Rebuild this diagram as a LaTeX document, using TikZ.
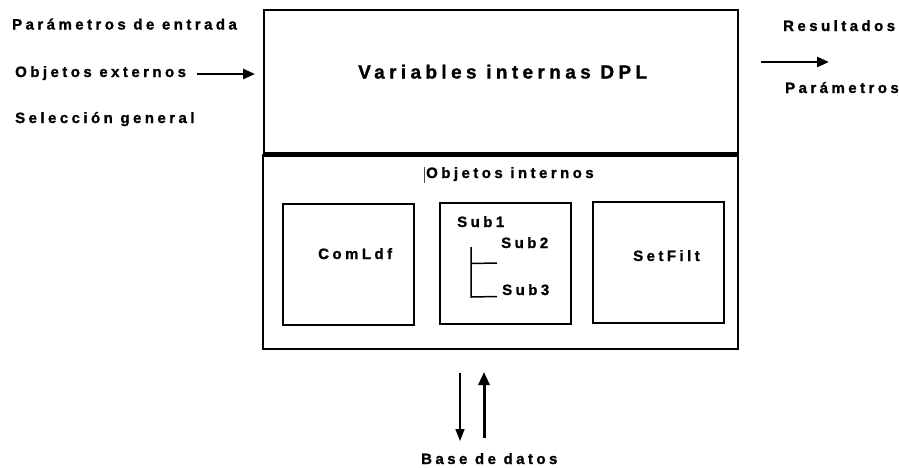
\documentclass[tikz,border=0pt]{standalone}
\usepackage{fontspec}
\setmainfont{Liberation Sans}
\newfontfamily\lblfont[LetterSpace=23,FakeBold=1.2]{Liberation Sans Bold}
\usetikzlibrary{arrows.meta}
\tikzset{
  box/.style={draw=black, line width=2pt, minimum width=#1, inner sep=0pt},
  lbl/.style={font=\lblfont\fontsize{15}{17}\selectfont, inner sep=0pt, anchor=base west},
  ttl/.style={font=\lblfont\fontsize{19}{22}\selectfont, inner sep=0pt, anchor=base west},
  arr/.style={line width=2.6pt, -{Triangle[length=12pt,width=10pt]}},
  thinarr/.style={line width=1.6pt, -{Triangle[length=12pt,width=9pt]}},
  thickarr/.style={line width=3pt, -{Triangle[length=13pt,width=11pt]}},
  tree/.style={line width=1.5pt},
}
\begin{document}
\begin{tikzpicture}[x=1pt,y=-1pt]
\useasboundingbox (0,0) rectangle (899,467);
% main boxes
\node[box=474pt, minimum height=143pt] (top) at (501,81.5) {};
\node[box=475pt, minimum height=194pt] (bot) at (500.5,252) {};
\draw[line width=4pt] (263,154.7) -- (738,154.7);
% inner boxes
\node[box=131pt, minimum height=121pt] (comb) at (348.5,264.5) {};
\node[box=131pt, minimum height=121pt] (subb) at (505.5,263.5) {};
\node[box=131pt, minimum height=121pt] (setb) at (658.5,262.5) {};
% texts
\node[lbl] (pe) at (12,29.5) {Parámetros de entrada};
\node[lbl] (oe) at (15,77) {Objetos externos};
\node[lbl] (sg) at (15,123) {Selección general};
\node[ttl] (vi) at (358,78.5) {Variables internas DPL};
\node[lbl] (oi) at (426,178) {Objetos internos};
\draw[line width=0.8pt, draw=black!70] (424,167) -- (424,183);
\node[lbl] (cl) at (318,259) {ComLdf};
\node[lbl] (s1) at (457,227) {Sub1};
\node[lbl] (s2) at (501,248) {Sub2};
\node[lbl] (s3) at (502,295) {Sub3};
\node[lbl] (sf) at (633,261) {SetFilt};
\node[lbl] (res) at (783,31) {Resultados};
\node[lbl] (par) at (785,93) {Parámetros};
\node[lbl] (bd) at (421,464) {Base de datos};
% tree lines
\coordinate (t0) at (471,247);
\coordinate (t1) at (471,263.5);
\coordinate (t2) at (471,297);
\coordinate (t1e) at (497,263);
\coordinate (t2e) at (497,296.5);
\draw[tree] (t0) -- (t2) -- (t2e);
\draw[tree] (t1) -- (t1e);
% arrows
\coordinate (la0) at (197,74);
\coordinate (la1) at (255,74);
\draw[arr] (la0) -- (la1);
\coordinate (ra0) at (761,62);
\coordinate (ra1) at (829,62);
\draw[arr] (ra0) -- (ra1);
\coordinate (da0) at (460,373);
\coordinate (da1) at (460,441);
\draw[thinarr] (da0) -- (da1);
\coordinate (ua0) at (484,438);
\coordinate (ua1) at (484,372);
\draw[thickarr] (ua0) -- (ua1);
\end{tikzpicture}
\end{document}
